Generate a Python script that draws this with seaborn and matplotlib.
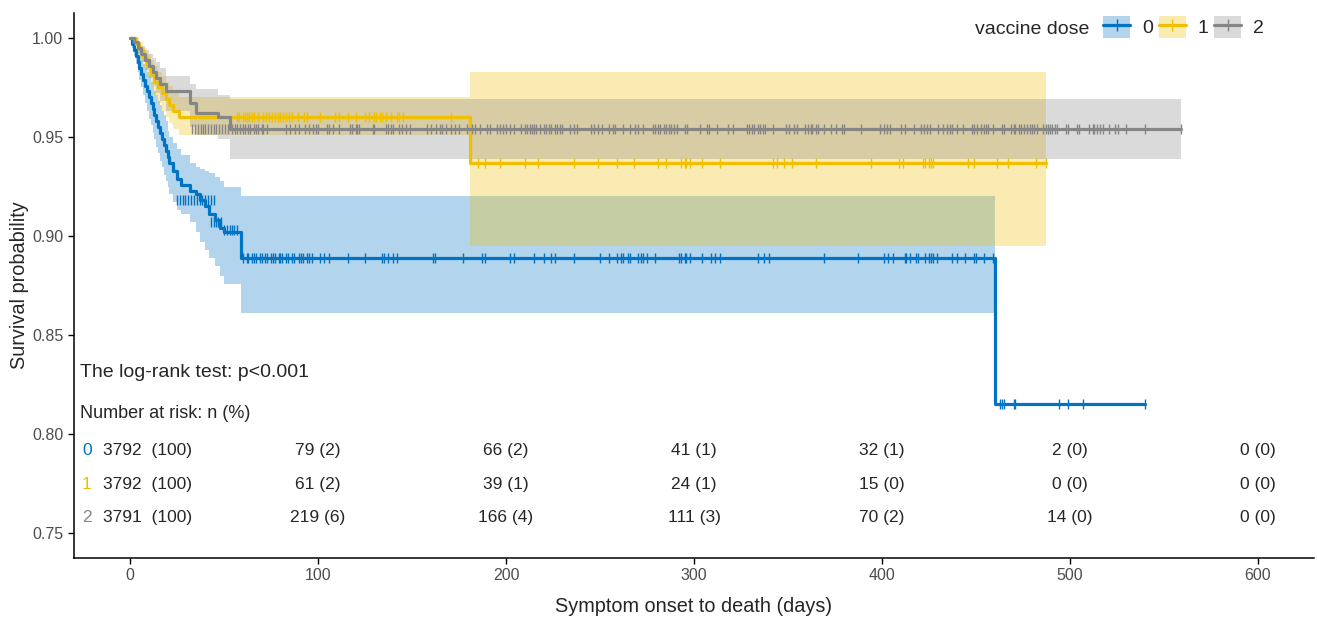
import numpy as np
import pandas as pd
import matplotlib
matplotlib.use("Agg")
import matplotlib.pyplot as plt
import seaborn as sns
from matplotlib.patches import Patch
from matplotlib.lines import Line2D
from matplotlib.legend_handler import HandlerTuple
from matplotlib.ticker import FormatStrFormatter

# ---------------- data ----------------
groups = ["0", "1", "2"]
colors = {"0": "#0073C2", "1": "#EFC000", "2": "#868686"}

# dose 0: KM step times, survival, CI (CI defined up to band end)
t0 = [0, 1, 2, 3, 4, 5, 6, 7, 8, 9, 10, 11, 12, 13, 14, 15, 16, 17, 18, 19, 20,
      21, 23, 25, 27, 32, 35, 37, 40, 42, 45, 48, 50, 59, 460]
s0 = [1.0, 0.997, 0.994, 0.991, 0.988, 0.985, 0.982, 0.979, 0.976, 0.973, 0.970,
      0.967, 0.964, 0.961, 0.958, 0.955, 0.952, 0.949, 0.946, 0.943, 0.940,
      0.937, 0.933, 0.929, 0.926, 0.923, 0.921, 0.918, 0.915, 0.911, 0.908,
      0.904, 0.902, 0.889, 0.815]
lo0 = [1.0, 0.995, 0.991, 0.987, 0.983, 0.979, 0.975, 0.971, 0.967, 0.963, 0.959,
       0.956, 0.952, 0.949, 0.945, 0.942, 0.938, 0.935, 0.931, 0.928, 0.925,
       0.921, 0.917, 0.913, 0.911, 0.907, 0.902, 0.897, 0.893, 0.889, 0.885,
       0.880, 0.876, 0.861]
hi0 = [1.0, 0.999, 0.997, 0.995, 0.993, 0.991, 0.989, 0.987, 0.985, 0.983, 0.981,
       0.978, 0.976, 0.973, 0.971, 0.968, 0.966, 0.963, 0.961, 0.958, 0.953,
       0.950, 0.947, 0.944, 0.941, 0.937, 0.935, 0.934, 0.933, 0.932, 0.930,
       0.928, 0.925, 0.920]
end0 = 540
band_end0 = 460

# dose 1
t1 = [0, 3, 5, 7, 9, 11, 13, 15, 17, 19, 21, 23, 26, 181]
s1 = [1.0, 0.997, 0.994, 0.990, 0.986, 0.982, 0.978, 0.975, 0.972, 0.969,
      0.966, 0.963, 0.960, 0.937]
lo1 = [1.0, 0.994, 0.990, 0.985, 0.980, 0.975, 0.971, 0.967, 0.963, 0.960,
       0.957, 0.954, 0.951, 0.895]
hi1 = [1.0, 1.0, 0.998, 0.995, 0.992, 0.989, 0.986, 0.983, 0.981, 0.978,
       0.976, 0.973, 0.970, 0.983]
end1 = 487
band_end1 = 487

# dose 2
t2 = [0, 2, 4, 6, 8, 10, 12, 14, 16, 19, 32, 35, 47, 53]
s2 = [1.0, 0.998, 0.995, 0.992, 0.989, 0.986, 0.983, 0.980, 0.977, 0.973,
      0.967, 0.962, 0.960, 0.954]
lo2 = [1.0, 0.996, 0.992, 0.988, 0.984, 0.980, 0.976, 0.972, 0.968, 0.963,
       0.955, 0.951, 0.949, 0.939]
hi2 = [1.0, 1.0, 0.998, 0.996, 0.994, 0.992, 0.990, 0.988, 0.985, 0.981,
       0.977, 0.974, 0.971, 0.969]
end2 = 559
band_end2 = 559

# censoring marks (level, times)
cens0_a = (0.918, [25, 26.5, 28, 29.5, 31, 32.5, 34, 35.5, 37, 38.5, 40, 41.5, 43, 44.5])
cens0_b = (0.907, [43, 44.5, 46, 47, 48.5])
cens0_c = (0.903, [50, 51.5, 53, 54, 55.5, 57])
cens0_d = (0.889, [60, 62, 63, 65, 66, 67, 69, 70, 72, 73, 75, 76, 77, 79, 80, 81,
                   83, 84, 86, 87, 90, 91, 92, 94, 95, 97, 101, 103, 106, 116, 125,
                   134, 135, 137, 140, 142, 161, 162, 177, 187, 189, 202, 204, 215,
                   220, 224, 226, 236, 250, 255, 259, 261, 262, 265, 266, 270, 272,
                   273, 275, 279, 292, 293, 295, 296, 298, 304, 309, 311, 314, 334,
                   337, 340, 369, 387, 401, 403, 406, 412, 413, 415, 418, 419, 423,
                   425, 426, 427, 429, 437, 440, 444, 449, 450, 454, 459])
cens0_e = (0.815, [463, 464, 465, 470, 471, 494, 499, 507, 540])

cens1_a = (0.960, [57, 58, 60, 61, 62, 63.5, 65, 66, 68, 71, 72.5, 74, 75.5, 77,
                   78.5, 80, 81.5, 83, 84.5, 86, 89.5, 92.5, 94, 101, 109, 111,
                   116, 120, 125, 127, 130, 131, 133, 134, 136, 139, 142, 143, 145,
                   171])
cens1_b = (0.937, [185, 189, 197, 210, 217, 236, 249, 259, 268, 281, 285, 293, 295,
                   296, 298, 304, 314, 342, 344, 348, 352, 365, 394, 409, 411, 422,
                   423, 425, 426, 427, 446, 449, 461, 467, 482, 487])

cens2_a = (0.954, [33, 34.5, 36, 37.5, 39, 40, 41.5, 43, 44.5, 46, 47.5, 49, 50.5,
                   52, 54, 56, 57, 58.5, 60, 61, 63, 64, 66, 67, 68, 70, 71, 73,
                   83, 85, 88, 90, 93, 95, 97.5, 99, 100, 105, 106, 108, 111, 117,
                   118, 120, 121, 122, 129, 130, 136, 137, 139, 140, 143, 144.5,
                   147, 149, 158, 160, 163, 165, 166, 168, 171, 173, 175, 179, 182,
                   183.5, 186, 190, 191.5, 195, 197, 198.5, 200, 202, 204, 208,
                   210, 211, 212.5, 214, 215, 216, 218, 220, 221.5, 223, 224, 226,
                   227, 228.5, 230, 234, 236, 238, 245, 247, 249, 251, 255, 257,
                   258, 262, 266, 268.5, 270, 273, 278, 279.5, 281, 282, 284, 285,
                   286.5, 288, 289.5, 291, 295, 296.5, 303, 307, 308, 312, 318,
                   321, 328, 329.5, 331, 332, 334, 335, 336.5, 338, 342, 349, 350.5,
                   353, 355, 359, 360.5, 362, 363, 365, 366, 369, 373, 375.5, 378.5,
                   380, 389, 399, 401, 402.5, 404, 410, 412, 417, 421, 422.5, 424,
                   425.5, 430, 432.5, 434.5, 436, 437.5, 440, 443, 448, 449, 450.5,
                   452.5, 454, 455.5, 456.5, 459, 464, 465, 468.5, 470, 471, 473,
                   474, 475.5, 477, 478.5, 480, 481, 482.5, 485.5, 487, 488.5, 489.5,
                   490.5, 492, 493, 498, 499, 503.5, 505, 510, 512, 513, 514.5, 516,
                   517.5, 520.5, 524, 525.5, 530, 540, 559])

cens_runs = {"0": [cens0_a, cens0_b, cens0_c, cens0_d, cens0_e],
             "1": [cens1_a, cens1_b],
             "2": [cens2_a]}

# risk table
risk_times = [0, 100, 200, 300, 400, 500, 600]
n0 = [3792, 79, 66, 41, 32, 2, 0]
p0 = [100, 2, 2, 1, 1, 0, 0]
n1 = [3792, 61, 39, 24, 15, 0, 0]
p1 = [100, 2, 1, 1, 0, 0, 0]
n2 = [3791, 219, 166, 111, 70, 14, 0]
p2 = [100, 6, 4, 3, 2, 0, 0]

# ---------------- build frames ----------------
curves = {"0": (t0, s0, end0),
          "1": (t1, s1, end1),
          "2": (t2, s2, end2)}
bands = {"0": (t0, lo0, hi0, band_end0),
         "1": (t1, lo1, hi1, band_end1),
         "2": (t2, lo2, hi2, band_end2)}

rows = []
for g, (tt, ss, end) in curves.items():
    for a, b in zip(list(tt) + [end], list(ss) + [ss[-1]]):
        rows.append({"dose": g, "time": a, "surv": b})
curve_df = pd.DataFrame(rows)

crow = []
for g, runs in cens_runs.items():
    for lvl, times in runs:
        for tm in times:
            crow.append({"dose": g, "time": tm, "surv": lvl})
cens_df = pd.DataFrame(crow)

# ---------------- plot ----------------
sns.set_theme(style="ticks")
plt.rcParams["font.family"] = ["Liberation Sans", "DejaVu Sans"]

fig = plt.figure(figsize=(13.17, 6.17), dpi=100)
ax = fig.add_axes([0.0559, 0.0956, 0.9421, 0.883])

for g, (tt, lo, hi, bend) in bands.items():
    n = len(lo)
    xs = list(tt[:n]) + [bend]
    lo_ = list(lo) + [lo[-1]]
    hi_ = list(hi) + [hi[-1]]
    ax.fill_between(xs, lo_, hi_, step="post", color=colors[g], alpha=0.3,
                    linewidth=0, zorder=1)

sns.lineplot(data=curve_df, x="time", y="surv", hue="dose", palette=colors,
             hue_order=groups, drawstyle="steps-post", estimator=None, sort=False,
             linewidth=2.3, legend=False, ax=ax, zorder=3)

for g in groups:
    sub = cens_df[cens_df["dose"] == g]
    ax.scatter(sub["time"], sub["surv"], marker="|", s=60, linewidths=1.0,
               color=colors[g], zorder=4)

ax.set_xlim(-30, 630)
ax.set_ylim(0.7375, 1.0125)
ax.set_xticks([0, 100, 200, 300, 400, 500, 600])
ax.set_yticks([0.75, 0.80, 0.85, 0.90, 0.95, 1.00])
ax.yaxis.set_major_formatter(FormatStrFormatter("%.2f"))
ax.tick_params(axis="both", labelsize=11.5, colors="black", labelcolor="#4D4D4D",
               length=4, width=1)
for side in ["top", "right"]:
    ax.spines[side].set_visible(False)
for side in ["left", "bottom"]:
    ax.spines[side].set_linewidth(1.1)
    ax.spines[side].set_color("black")
ax.set_xlabel("Symptom onset to death (days)", fontsize=14.3, labelpad=10)
ax.set_ylabel("Survival probability", fontsize=14.3, labelpad=2)

# annotations
ax.text(-26.6, 0.8310, "The log-rank test: p<0.001", fontsize=14, va="center", ha="left")
ax.text(-26.6, 0.8106, "Number at risk: n (%)", fontsize=13, va="center", ha="left")

risk_rows = [("0", n0, p0, 0.7918), ("1", n1, p1, 0.7747), ("2", n2, p2, 0.7581)]
for g, nn, pp, yy in risk_rows:
    ax.text(-25.5, yy, g, color=colors[g], fontsize=12.5, va="center", ha="left")
    for tm, n, p in zip(risk_times, nn, pp):
        if tm == 0:
            ax.text(-14.4, yy, f"{n}  ({p})", fontsize=12.5, va="center", ha="left")
        else:
            ax.text(tm, yy, f"{n} ({p})", fontsize=12.5, va="center", ha="center")

# legend
handles = []
for g in groups:
    handles.append((Patch(facecolor=colors[g], alpha=0.3, edgecolor="none"),
                    Line2D([], [], color=colors[g], lw=2.3, marker="|",
                           markersize=8, markeredgewidth=1.0)))
leg = fig.legend(handles, groups, handler_map={tuple: HandlerTuple(ndivide=1, pad=0)},
                 ncol=3, loc="center right", bbox_to_anchor=(1264 / 1317, 1 - 27 / 617),
                 frameon=False, fontsize=14, handlelength=1.4, handleheight=1.35,
                 handletextpad=0.6, columnspacing=0.3, borderpad=0, borderaxespad=0)
fig.text(975 / 1317, 1 - 29 / 617, "vaccine dose", fontsize=14, va="center", ha="left")

fig.savefig("out.png", dpi=100)
